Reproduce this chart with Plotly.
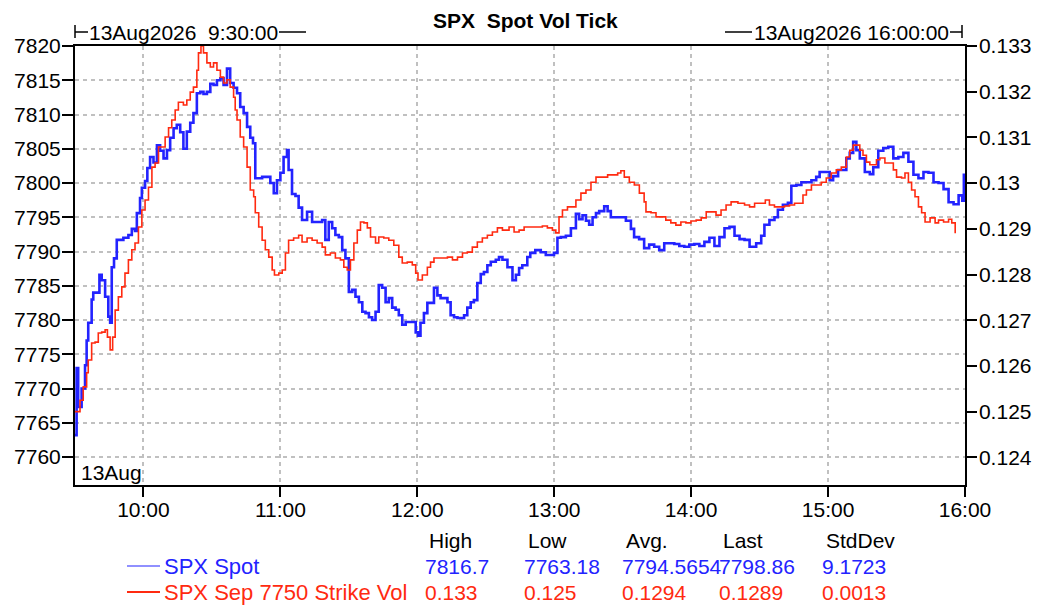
import pandas as pd
import plotly.graph_objects as go

SESSION_OPEN = pd.Timestamp("2026-08-13 09:30:00")
SESSION_CLOSE = pd.Timestamp("2026-08-13 16:00:00")

# SPX spot ticks: minutes after the open, price
spot_minutes = [
    0, 0.7, 1.4, 2.9, 4.4, 5.1, 5.8, 7.3, 8.0, 9.5,
    10.7, 11.7, 13.2, 14.6, 15.4, 16.1, 17.1, 18.3, 19.8, 21.2,
    23.4, 24.9, 26.3, 27.1, 28.5, 29.3, 30.7, 31.7, 32.9, 34.4,
    35.9, 37.3, 38.8, 40.3, 41.7, 43.2, 44.6, 46.1, 47.5, 49.0,
    50.5, 51.9, 53.4, 54.9, 56.3, 57.8, 59.3, 60.7, 62.2, 63.7,
    65.1, 66.6, 68.0, 69.5, 71.0, 72.4, 73.9, 75.4, 76.8, 78.0,
    79.0, 80.5, 82.0, 84.2, 85.6, 87.1, 88.5, 90.0, 91.4, 92.9,
    93.6, 95.1, 96.6, 98.0, 99.5, 101.7, 103.9, 106.1, 108.3, 109.7,
    111.2, 112.7, 114.1, 115.6, 117.1, 118.5, 120.0, 121.5, 122.9, 124.4,
    125.9, 127.3, 128.8, 130.2, 131.7, 133.1, 134.6, 136.1, 137.5, 139.0,
    140.5, 141.9, 143.4, 144.9, 146.3, 147.8, 149.3, 150.3, 151.4, 152.9,
    154.4, 155.8, 157.3, 158.8, 160.2, 161.7, 163.2, 164.6, 166.1, 167.6,
    169.0, 170.5, 171.9, 173.4, 174.8, 176.3, 177.8, 179.2, 180.7, 182.2,
    184.4, 185.8, 187.3, 189.5, 191.7, 193.2, 194.6, 196.0, 198.2, 199.5,
    201.7, 204.1, 206.3, 207.7, 209.9, 211.4, 212.9, 215.1, 217.3, 219.5,
    220.9, 222.4, 223.9, 225.3, 226.8, 228.3, 229.7, 231.9, 233.4, 234.8,
    237.0, 239.2, 241.4, 243.6, 245.0, 247.2, 249.4, 251.6, 253.8, 256.0,
    258.2, 260.4, 262.6, 264.8, 267.0, 269.2, 271.4, 273.6, 275.8, 278.0,
    280.2, 282.4, 284.6, 286.8, 289.0, 291.2, 293.4, 295.6, 298.5, 300.7,
    302.1, 304.3, 306.5, 308.0, 310.2, 312.4, 313.9, 316.1, 318.3, 320.5,
    322.7, 324.8, 326.3, 328.5, 330.7, 332.2, 334.4, 336.6, 338.0, 339.5,
    341.0, 342.4, 343.9, 346.1, 348.3, 349.8, 352.0, 354.2, 356.4, 358.6,
    360.8, 363.0, 365.2, 367.4, 369.6, 371.8, 374.0, 376.2, 378.4, 380.6,
    382.8, 385.0, 387.2, 388.8, 389.5, 390.0,
]
spot_price = [
    7763.2, 7773.0, 7767.3, 7770.0, 7773.4, 7777.0, 7779.6, 7783.0, 7784.0, 7784.0,
    7786.6, 7785.8, 7783.4, 7780.5, 7779.6, 7787.7, 7789.0, 7791.7, 7791.7, 7792.0,
    7792.4, 7793.3, 7793.0, 7795.6, 7797.8, 7799.3, 7800.3, 7802.2, 7803.8, 7803.0,
    7805.5, 7804.7, 7803.6, 7804.8, 7806.6, 7808.0, 7808.5, 7807.4, 7805.0, 7807.5,
    7808.8, 7810.2, 7813.1, 7813.3, 7813.0, 7813.3, 7814.5, 7814.3, 7815.0, 7815.3,
    7814.3, 7816.7, 7814.6, 7813.9, 7813.1, 7811.1, 7810.2, 7808.2, 7806.6, 7805.8,
    7800.7, 7800.7, 7800.9, 7800.9, 7800.0, 7798.5, 7800.4, 7801.5, 7803.8, 7804.8,
    7801.9, 7798.4, 7798.1, 7796.4, 7794.6, 7795.8, 7794.3, 7794.3, 7794.6, 7791.7,
    7794.3, 7793.4, 7792.4, 7792.1, 7790.2, 7789.0, 7784.1, 7784.4, 7783.4, 7782.6,
    7781.2, 7781.0, 7780.4, 7780.0, 7781.2, 7785.1, 7784.7, 7782.6, 7783.2, 7781.8,
    7781.5, 7780.7, 7779.3, 7779.7, 7779.7, 7779.7, 7778.2, 7777.7, 7779.6, 7781.0,
    7782.5, 7782.5, 7784.7, 7783.6, 7783.2, 7783.2, 7782.6, 7780.7, 7780.4, 7780.3,
    7780.3, 7780.7, 7781.8, 7782.6, 7782.9, 7785.4, 7786.7, 7787.0, 7788.0, 7788.5,
    7788.8, 7789.2, 7788.8, 7787.7, 7785.8, 7786.6, 7787.6, 7788.0, 7789.2, 7789.8,
    7790.2, 7789.9, 7789.5, 7789.5, 7789.8, 7792.0, 7792.1, 7792.3, 7793.4, 7795.5,
    7794.7, 7795.3, 7794.5, 7793.9, 7795.0, 7795.6, 7795.9, 7796.6, 7795.9, 7795.0,
    7795.0, 7795.0, 7794.5, 7793.3, 7792.1, 7791.8, 7790.5, 7791.0, 7790.7, 7790.2,
    7791.2, 7791.2, 7791.1, 7790.8, 7790.7, 7791.0, 7791.1, 7790.8, 7791.4, 7792.0,
    7790.8, 7792.1, 7793.4, 7793.6, 7792.3, 7791.8, 7791.7, 7790.7, 7791.2, 7792.3,
    7793.9, 7794.6, 7795.0, 7796.1, 7796.8, 7797.1, 7799.6, 7799.7, 7800.1, 7800.1,
    7800.4, 7800.9, 7801.6, 7801.6, 7800.4, 7801.0, 7801.9, 7801.9, 7803.6, 7804.4,
    7806.0, 7804.8, 7803.6, 7801.6, 7801.3, 7802.3, 7804.7, 7805.1, 7805.3, 7803.6,
    7803.8, 7804.4, 7803.1, 7801.2, 7800.7, 7801.6, 7801.5, 7800.1, 7800.0, 7799.1,
    7797.2, 7796.9, 7798.2, 7797.4, 7801.2, 7798.9,
]

# Sep 7750 strike vol: minutes after the open, implied vol
vol_minutes = [
    0, 2.2, 3.6, 5.1, 5.8, 7.3, 8.8, 10.2, 11.7, 13.2,
    14.2, 15.4, 16.5, 17.6, 19.0, 20.5, 21.9, 23.4, 24.9, 26.3,
    27.8, 29.3, 30.7, 32.2, 33.7, 35.1, 36.6, 38.1, 39.5, 41.0,
    42.4, 43.9, 45.3, 46.8, 47.5, 49.0, 50.5, 51.9, 53.4, 54.1,
    55.2, 56.3, 57.8, 59.3, 60.7, 62.2, 63.7, 65.1, 66.6, 68.0,
    69.5, 70.2, 71.0, 72.4, 73.9, 75.4, 76.8, 78.3, 79.0, 80.5,
    82.0, 83.4, 84.9, 86.4, 87.4, 89.3, 90.8, 92.2, 93.6, 95.8,
    98.0, 99.5, 101.7, 103.9, 106.1, 108.3, 109.7, 111.9, 114.1, 116.3,
    117.8, 119.3, 120.7, 122.2, 123.7, 125.1, 126.6, 128.1, 129.5, 131.7,
    133.1, 135.3, 137.5, 139.7, 141.9, 143.4, 145.6, 147.8, 149.3, 150.3,
    152.2, 154.4, 155.8, 157.3, 160.2, 163.2, 165.4, 167.6, 169.8, 171.9,
    174.1, 176.3, 178.5, 180.7, 182.9, 185.1, 187.3, 190.2, 192.4, 194.6,
    196.8, 199.7, 202.6, 204.8, 207.0, 209.2, 210.7, 212.1, 213.6, 215.8,
    218.0, 219.5, 221.7, 223.9, 226.1, 228.3, 230.5, 233.4, 235.6, 237.8,
    239.2, 240.7, 242.9, 245.1, 247.3, 249.4, 250.2, 252.4, 254.6, 256.7,
    258.9, 261.1, 263.3, 265.5, 267.7, 269.9, 272.2, 274.4, 276.6, 278.8,
    280.9, 283.1, 285.3, 287.5, 290.5, 293.4, 295.6, 297.8, 300.7, 302.5,
    304.3, 306.5, 308.7, 310.9, 313.1, 315.3, 317.5, 319.0, 320.5, 322.7,
    324.8, 327.0, 329.2, 331.4, 333.6, 335.8, 338.0, 339.5, 341.0, 342.4,
    343.9, 345.3, 346.8, 348.3, 349.8, 351.2, 352.7, 354.9, 357.1, 358.6,
    360.0, 362.2, 363.7, 365.2, 366.6, 368.1, 369.6, 371.0, 372.5, 374.7,
    376.9, 378.4, 380.6, 382.8, 384.2, 385.7,
]
strike_vol = [
    0.12500, 0.12525, 0.12554, 0.12585, 0.12613, 0.12650, 0.12652, 0.12672, 0.12674, 0.12679,
    0.12663, 0.12635, 0.12663, 0.12722, 0.12751, 0.12773, 0.12803, 0.12832, 0.12854, 0.12869,
    0.12904, 0.12941, 0.12963, 0.12991, 0.13035, 0.13044, 0.13079, 0.13079, 0.13101, 0.13121,
    0.13138, 0.13160, 0.13177, 0.13177, 0.13171, 0.13182, 0.13199, 0.13210, 0.13247, 0.13285,
    0.13300, 0.13285, 0.13263, 0.13254, 0.13263, 0.13247, 0.13232, 0.13219, 0.13226, 0.13210,
    0.13188, 0.13160, 0.13138, 0.13101, 0.13079, 0.13035, 0.12985, 0.12970, 0.12935, 0.12904,
    0.12875, 0.12854, 0.12838, 0.12810, 0.12799, 0.12803, 0.12810, 0.12847, 0.12875, 0.12880,
    0.12886, 0.12871, 0.12880, 0.12875, 0.12869, 0.12860, 0.12843, 0.12847, 0.12836, 0.12832,
    0.12816, 0.12810, 0.12832, 0.12869, 0.12897, 0.12915, 0.12913, 0.12902, 0.12882, 0.12869,
    0.12882, 0.12880, 0.12875, 0.12864, 0.12838, 0.12825, 0.12827, 0.12821, 0.12803, 0.12788,
    0.12799, 0.12816, 0.12827, 0.12836, 0.12836, 0.12838, 0.12832, 0.12838, 0.12847, 0.12849,
    0.12860, 0.12871, 0.12880, 0.12886, 0.12893, 0.12902, 0.12897, 0.12904, 0.12893, 0.12897,
    0.12904, 0.12904, 0.12904, 0.12906, 0.12902, 0.12897, 0.12891, 0.12926, 0.12941, 0.12948,
    0.12948, 0.12963, 0.12978, 0.12985, 0.13002, 0.13013, 0.13013, 0.13018, 0.13018, 0.13022,
    0.13027, 0.13013, 0.13002, 0.12996, 0.12978, 0.12959, 0.12937, 0.12935, 0.12926, 0.12926,
    0.12919, 0.12913, 0.12908, 0.12915, 0.12913, 0.12917, 0.12919, 0.12924, 0.12937, 0.12937,
    0.12930, 0.12941, 0.12952, 0.12959, 0.12956, 0.12952, 0.12948, 0.12956, 0.12956, 0.12963,
    0.12952, 0.12948, 0.12948, 0.12950, 0.12952, 0.12956, 0.12956, 0.12974, 0.12985, 0.12996,
    0.12996, 0.13002, 0.13011, 0.13022, 0.13029, 0.13035, 0.13057, 0.13072, 0.13083, 0.13083,
    0.13072, 0.13061, 0.13046, 0.13040, 0.13040, 0.13051, 0.13055, 0.13044, 0.13044, 0.13029,
    0.13013, 0.13011, 0.13022, 0.13002, 0.12985, 0.12970, 0.12948, 0.12935, 0.12915, 0.12924,
    0.12913, 0.12919, 0.12915, 0.12921, 0.12913, 0.12890,
]

spot_ticks = [7760, 7765, 7770, 7775, 7780, 7785, 7790, 7795, 7800, 7805, 7810, 7815, 7820]
vol_ticks = [0.124, 0.125, 0.126, 0.127, 0.128, 0.129, 0.130, 0.131, 0.132, 0.133]
hour_labels = ["10:00", "11:00", "12:00", "13:00", "14:00", "15:00", "16:00"]

series_names = ["SPX Spot", "SPX Sep 7750 Strike Vol"]
stat_headers = ["High", "Low", "Avg.", "Last", "StdDev"]
spot_stats = ["7816.7", "7763.18", "7794.5654", "7798.86", "9.1723"]
vol_stats = ["0.133", "0.125", "0.1294", "0.1289", "0.0013"]

BLUE = "#2323ff"
RED = "#ff2a10"
FONT = "Liberation Sans, Arial, sans-serif"
W, H = 1058, 614
L, R, T, B = 75, 965, 46, 485
BODY = 8  # the page's default body margin shifts the figure by this much


def px(x):
    return (x - L) / (R - L)


def py(y):
    return (B - y) / (B - T)


spot_t = SESSION_OPEN + pd.to_timedelta(spot_minutes, unit="m")
vol_t = SESSION_OPEN + pd.to_timedelta(vol_minutes, unit="m")

fig = go.Figure()
fig.add_trace(go.Scatter(x=spot_t, y=spot_price, mode="lines", line_shape="hv",
                         line=dict(color=BLUE, width=2.6), name=series_names[0]))
fig.add_trace(go.Scatter(x=vol_t, y=strike_vol, mode="lines", line_shape="hv", yaxis="y2",
                         line=dict(color=RED, width=1.6), name=series_names[1]))

grid = dict(showgrid=True, gridcolor="#c0c0c0", gridwidth=1.5, griddash="4px,4px")
tickfont = dict(family=FONT, size=21, color="black")

hour_vals = [pd.Timestamp(f"2026-08-13 {h}") for h in hour_labels]
fig.update_layout(
    width=W - BODY, height=H - BODY,
    margin=dict(l=L - BODY, r=W - R, t=T - BODY, b=H - B, autoexpand=False),
    paper_bgcolor="white", plot_bgcolor="white",
    showlegend=False,
    xaxis=dict(type="date", range=[SESSION_OPEN, SESSION_CLOSE],
               tickvals=hour_vals, ticktext=hour_labels,
               ticks="outside", ticklen=10, tickwidth=2, tickcolor="black",
               ticklabelstandoff=-5,
               showline=True, linewidth=2, linecolor="black", mirror=True,
               tickfont=tickfont, zeroline=False, **grid),
    yaxis=dict(range=[7820 - (B - T) / 6.85, 7820],
               tickvals=spot_ticks, ticktext=[str(v) for v in spot_ticks],
               ticks="outside", ticklen=11, tickwidth=2, tickcolor="black",
               ticklabelstandoff=-3,
               showline=True, linewidth=2, linecolor="black",
               tickfont=tickfont, zeroline=False, **grid),
    yaxis2=dict(range=[0.133 - (B - T) / 45700, 0.133], overlaying="y", side="right",
                tickvals=vol_ticks, ticktext=[f"{v:g}" for v in vol_ticks],
                ticks="outside", ticklen=10, tickwidth=2, tickcolor="black",
                ticklabelstandoff=-2,
                showline=True, linewidth=1.5, linecolor="black",
                showgrid=False, zeroline=False, tickfont=tickfont),
)

ann = []
shapes = []


def text(x, y, s, color="black", anchor="left", size=21, weight="normal"):
    ann.append(dict(x=px(x), y=py(y), xref="paper", yref="paper", text=s, showarrow=False,
                    xanchor=anchor, yanchor="middle",
                    font=dict(family=FONT, size=size, color=color, weight=weight)))


def seg(x0, y0, x1, y1, color="black", width=1.5):
    shapes.append(dict(type="line", xref="paper", yref="paper",
                       x0=px(x0), y0=py(y0), x1=px(x1), y1=py(y1),
                       line=dict(color=color, width=width)))


# title and session brackets
text(525, 20, "SPX\u00a0 Spot Vol Tick", anchor="center", weight="bold")
seg(75, 25, 75, 38)
seg(75, 32, 88, 32)
text(87, 32, SESSION_OPEN.strftime("%d%b%Y") + "\u00a0 9:30:00")
seg(279, 32, 306, 32)
seg(725, 32, 752, 32)
text(752, 32, SESSION_CLOSE.strftime("%d%b%Y %H:%M:%S"))
seg(950, 32, 962, 32)
seg(962, 25, 962, 38)
text(79, 472, SESSION_OPEN.strftime("%d%b"))

# stats table
col_x = [423, 522, 620, 717, 820]
for cx, h in zip(col_x, stat_headers):
    text(cx + 4, 540, h)
for cx, s in zip(col_x, spot_stats):
    text(cx, 566, s, color=BLUE)
for cx, s in zip(col_x, vol_stats):
    text(cx, 592, s, color=RED)
seg(127, 566, 160, 566, color=BLUE, width=1.2)
seg(127, 592, 160, 592, color=RED, width=2)
text(162, 566, series_names[0], color=BLUE, size=22)
text(162, 592, series_names[1], color=RED, size=22)

fig.update_layout(annotations=ann, shapes=shapes)
fig.write_html("out.html")
